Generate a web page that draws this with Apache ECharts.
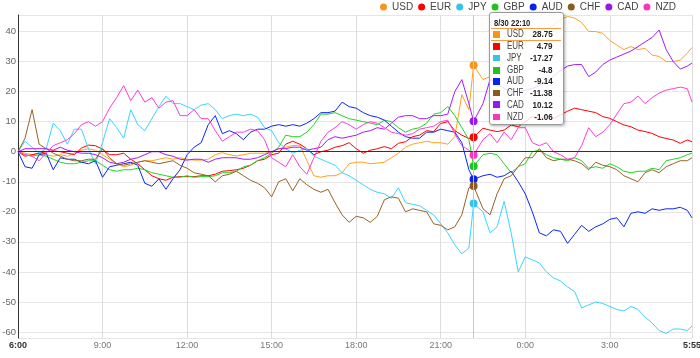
<!DOCTYPE html>
<html><head><meta charset="utf-8">
<script src="https://cdn.jsdelivr.net/npm/echarts@6/dist/echarts.min.js"></script>
<style>html,body{margin:0;padding:0;background:#fff}#c{width:700px;height:358px}</style>
</head><body><div id="c"></div>
<script>
const FONT = "'Liberation Sans',Arial,Helvetica,sans-serif";

const times = ['6:00','6:15','6:30','6:45','7:00','7:15','7:30','7:45','8:00','8:15','8:30','8:45',
'9:00','9:15','9:30','9:45','10:00','10:15','10:30','10:45','11:00','11:15','11:30','11:45',
'12:00','12:15','12:30','12:45','13:00','13:15','13:30','13:45','14:00','14:15','14:30','14:45',
'15:00','15:15','15:30','15:45','16:00','16:15','16:30','16:45','17:00','17:15','17:30','17:45',
'18:00','18:15','18:30','18:45','19:00','19:15','19:30','19:45','20:00','20:15','20:30','20:45',
'21:00','21:15','21:30','21:45','22:00','22:10','22:30','22:45','23:00','23:15','23:30','23:45',
'0:00','0:15','0:30','0:45','1:00','1:15','1:30','1:45','2:00','2:15','2:30','2:45',
'3:00','3:15','3:30','3:45','4:00','4:15','4:30','4:45','5:00','5:15','5:30','5:45','5:55'];

const names  = ['USD','EUR','JPY','GBP','AUD','CHF','CAD','NZD'];
const colors = ['#f7941d','#ff0000','#33c3f0','#1fc21f','#0a22f0','#8b5a22','#9a16f0','#f538c4'];

const usd = [0,-0.5,-1,-0.5,-1,-1.5,-1,-1.5,-0.5,0.5,1,0.5,
-1,-2.5,-4,-5,-4.5,-3.5,-3,-3,-2.5,-2,-2.5,-2,
-2.5,-2.8,-2.8,-2.5,-1,-0.3,-1,-1.4,-1,-0.5,-0.5,-0.5,
0,1,1.5,2,2.2,-3,-8,-8.5,-8,-8,-7,-4,
-3.5,-3.5,-4,-3.8,-3.5,-2,-0.5,1.5,2.5,3,3.5,3,
3,2.5,5,19,14,28.75,24,25,27,30,32,34,
36,38,40,41,42,44,45,44.5,43,40,40,39.4,
37,35.5,34,35,34,34.4,32.2,31.7,30,30,30.5,32.8,34.7];

const eur = [0,-1.5,-1,-0.5,0,0.3,0,-0.5,-1,1.2,2.2,2,
0.8,-1,-1,-0.5,-2.5,-4,-6,-8,-9,-9.5,-8.5,-8.3,
-8.3,-8.3,-8,-8,-7.5,-6.5,-6.3,-6,-5.5,-4.5,-3,-2.5,
-1,-0.5,2.5,3.5,2.5,1,-1,0,0.5,1.5,2,3,
1,-0.5,0.5,1,1.7,1,2.8,3.3,5,5.5,7,6.7,
9.4,10,7,5.5,4.4,4.79,7.8,7.2,6.7,7.2,8.9,8.3,
10,11.7,11,12.2,11,12.2,13.5,14.5,14,13.5,13,11.7,
11.1,10,8.9,8.3,7.2,6.7,6.1,5,4.4,3.9,2.8,3.9,3.3];

const jpy = [0,3.5,1.5,-0.5,1,9.5,7,2.5,7.5,7.5,1,-4,
3,11,8,4.5,14,9,7,11,15,18.5,16,16,
15,14,15.5,16,14,11,12,12.5,12,12.5,11.5,8,
7,3,1,-0.5,0.5,1,-1.5,-2.5,-3.5,-4.5,-7,-8,
-9.5,-11,-12.5,-13.5,-14,-15.5,-12,-17,-17.5,-18,-19.5,-21,
-24,-27,-31,-34,-32,-17.27,-20,-27,-25,-16.5,-27,-40,
-35,-36,-37,-40,-42,-43,-45,-46.5,-52,-51,-50,-50.5,
-51.5,-52.5,-53,-51.5,-52.5,-55,-57,-59.5,-60.5,-59,-59,-59.5,-58];

const gbp = [0,-1,-1.5,-1,-1.5,-2.5,-3.5,-4,-4,-3.5,-3,-3,
-4.5,-6,-6.5,-6,-6,-5.5,-6,-7,-7.5,-8,-8.5,-8.5,
-8,-8.5,-8.3,-8.3,-8,-7,-7,-6.5,-5,-4.5,-3,-2,
-0.5,1.5,5.5,5,5,6.5,9,12.5,12.5,13,12,11,
10.5,10,9.5,9,10.5,10,8,6.5,7.5,8,9.5,12.5,
13,15,12,8,4,-4.8,-1,-0.5,-1,-4,-7,-5,
-4,0,0.5,-1,-2,-2.5,-3,-2,-3,-5.5,-5,-5.5,
-4,-5,-6.5,-7,-6.5,-6.5,-5.5,-6,-3,-2.5,-2,-1,-0.5];

const aud = [0,-5,-5.5,-1,-0.5,-6,-2,-2.5,-2.5,-3.5,-4,-3,
-8.5,-5,-4.5,-4,-3.5,-4.5,-10.5,-11.5,-9,-12.5,-9,-6,
-1,1.5,3,9,12,6,7,6,4,6.5,7.5,7.5,
8.5,9,8.5,9,8.5,9.5,11,13,13,13.5,16.5,15,
14.5,13,12,11.5,10.5,8.5,6.5,5,4.5,4.5,6.5,6.5,
7.5,7,6.5,3,-6,-9.14,-8,-7.5,-8.5,-8,-6.5,-10,
-14,-20,-27,-28,-26,-26.5,-30.5,-27.5,-24.5,-26.5,-25,-24,
-22.5,-22,-25,-20.5,-20,-20.5,-19,-19.5,-19,-19,-18.5,-19.5,-22];

const chf = [0,4.5,14,2.5,1,-0.5,-1.5,-2.5,-3,-3,-2.5,-2.5,
1,-2,-4,-4.5,-4,-3.5,-3,-3.5,-4,-3.5,-3,-4.5,
-5.5,-7,-7.5,-8,-10,-8,-7.5,-6.5,-8,-9.5,-10.5,-12,
-15,-10,-9,-13,-9,-11,-12.5,-13.5,-12.5,-17,-21,-23.5,
-21.5,-22,-23.5,-21.5,-16,-15,-15.5,-20,-19,-19.5,-20,-24,
-24.5,-26,-25,-21,-12,-11.38,-19,-21,-14,-9,-8,-5,
-2,-2,1,-2,-3,-2.5,-2.5,-3,-4,-6,-3.5,-4.5,
-5,-6,-8,-9,-10,-7,-6,-7,-5,-4,-3,-3,-2];

const cad = [0,1,1,1,1,0.5,1.5,0.5,0,-0.5,-0.5,-1,
-2,-3.5,-4,-3.5,-2.5,-2,-1,0,0,-1,-1.5,-2.5,
-2.8,-2.5,-2.5,-3.5,-2.5,-2,-2,-2,-2.5,-2.5,-2,-1,
0,1,1,1.5,1.5,0.5,1,1.5,4,5,4.5,5,
5.5,6.5,7,8,7.5,9.5,11.5,12,12,11,11,12,
12,12.5,20,24,16,10.12,16,24,23,21,20,20,
20.5,21,22,23.5,25,27,28.5,29,29,25,26.5,29,
30.5,31.5,32.5,33.5,35,36.5,38,40.5,34,30,27.5,28.5,29.5];

const nzd = [0,-1,-1.5,-3,-0.5,2,3,4,6,9,10,8.5,
10,14.5,18,22,17,20.5,16.5,18,14.5,16.5,17,12,
12,14,11,11,7,3.5,5,6.5,6.5,7.5,7,4,
-2,-3.5,-5,-1,-5,-7.5,-2,3.5,6.5,8,10,9,
7.5,9,10,9.5,8,6.5,6,5.5,6,7.5,8,8.5,
10,10.5,6,2,0.5,-1.06,4,6,3,6.5,4,8,
8,3,2,3,0,-1,-2.5,-2,2,8,5,6.5,
9,12.5,16,16.5,18.5,16,18,19.5,20.5,21,21.5,21,16.5];

const seriesValues = [usd, eur, jpy, gbp, aud, chf, cad, nzd];
const tipTitle = '8/30 22:10';
const tipIndex = times.indexOf('22:10');

function toMin(s){ const p = s.split(':').map(Number); let v = p[0]*60 + p[1] - 360; if (v < 0) v += 1440; return v; }
function fromMin(v){ let m = (v + 360) % 1440; return Math.floor(m/60) + ':' + String(m%60).padStart(2,'0'); }
const xs = times.map(toMin);
const xMax = xs[xs.length-1];

const chart = echarts.init(document.getElementById('c'), null, {renderer:'canvas'});

const series = names.map((n, i) => {
  const s = {
    name: n, type: 'line', color: colors[i],
    showSymbol: false, symbol: 'circle', symbolSize: 8,
    lineStyle: {width: 1, color: colors[i]},
    itemStyle: {color: colors[i]},
    emphasis: {scale: false, lineStyle: {width: 1}},
    animation: false,
    data: xs.map((x, k) => [x, seriesValues[i][k]])
  };
  if (i === 0) {
    s.markLine = {silent: true, symbol: ['none','none'], label: {show: false},
      lineStyle: {color: '#333', width: 1, type: 'solid'}, data: [{yAxis: 0}], animation: false};
  }
  return s;
});

const TF = 'Arial,Helvetica,sans-serif';
function tipHtml(params) {
  let h = '<div style="position:relative;width:73px;height:111px;font-family:' + TF + ';color:#333;overflow:hidden">';
  h += '<div style="position:absolute;left:4.3px;top:4px;font-weight:bold;font-size:9.5px;line-height:12px;color:#222;white-space:nowrap;transform:scaleX(0.8);transform-origin:0 0">' + tipTitle + '</div>';
  h += '<div style="position:absolute;left:1px;right:2px;top:14.6px;height:1px;background:#f5a040"></div>';
  h += '<div style="position:absolute;left:1px;right:2px;top:26.6px;height:1px;background:#f5a040"></div>';
  const centers = [21.3, 33.3, 45, 57.3, 68.3, 80, 91.6, 104];
  params.forEach(function (p, i) {
    const c = centers[i];
    h += '<div style="position:absolute;left:3.3px;top:' + (c - 3.3) + 'px;width:6.6px;height:6.6px;background:' + p.color + '"></div>';
    h += '<div style="position:absolute;left:16.7px;top:' + (c - 6) + 'px;font-size:10px;line-height:12px;color:#444;white-space:nowrap;transform:scaleX(0.8);transform-origin:0 0">' + p.seriesName + '</div>';
    h += '<div style="position:absolute;right:10.3px;top:' + (c - 6) + 'px;font-size:9.5px;line-height:12px;font-weight:bold;color:#222;white-space:nowrap;transform:scaleX(0.85);transform-origin:100% 0">' + p.data[1] + '</div>';
  });
  return h + '</div>';
}

chart.setOption({
  animation: false,
  backgroundColor: '#fff',
  textStyle: {fontFamily: FONT},
  grid: {left: 18, right: 8, top: 15, bottom: 20, containLabel: false, outerBoundsMode: 'none'},
  legend: {
    data: names, right: 24, top: 2, padding: 0, icon: 'circle', itemWidth: 7, itemHeight: 7, itemGap: 5,
    textStyle: {fontSize: 10, color: '#444', fontFamily: FONT}
  },
  tooltip: {
    trigger: 'axis', triggerOn: 'none', alwaysShowContent: true,
    position: [489, 12], transitionDuration: 0,
    padding: 0, borderWidth: 1, borderColor: '#9a9a9a', borderRadius: 3,
    backgroundColor: 'rgba(255,255,255,0.82)',
    extraCssText: 'box-shadow:1px 1px 3px rgba(0,0,0,0.35);',
    axisPointer: {type: 'line', animation: false, lineStyle: {color: '#c8c8c8', width: 1, type: 'solid'}},
    formatter: tipHtml
  },
  xAxis: {
    type: 'value', min: 0, max: xMax, interval: 180,
    axisLine: {show: false, onZero: false}, axisTick: {show: false},
    splitLine: {show: true, lineStyle: {color: '#dedede', width: 1}},
    axisLabel: {
      fontSize: 9, color: '#777', margin: 3, fontFamily: FONT,
      formatter: function (v) {
        const t = fromMin(v);
        if (v === 0 || v === xMax) return '{b|' + t + '}';
        return t;
      },
      rich: {b: {fontWeight: 'bold', color: '#333', fontSize: 9, fontFamily: FONT}}
    }
  },
  yAxis: {
    type: 'value', min: -62, max: 45.5, splitNumber: 10,
    axisLine: {show: true, lineStyle: {color: '#333', width: 1}}, axisTick: {show: false},
    splitLine: {show: true, lineStyle: {color: '#e6e6e6', width: 1}},
    axisLabel: {fontSize: 9.5, color: '#666', margin: 2, fontFamily: FONT,
      formatter: function (v) { return (Math.abs(v % 10) < 1e-9) ? String(v) : ''; }}
  },
  series: series
});

chart.dispatchAction({type: 'showTip', seriesIndex: 0, dataIndex: tipIndex});
setTimeout(function () { chart.dispatchAction({type: 'showTip', seriesIndex: 0, dataIndex: tipIndex}); }, 50);
</script>
</body></html>
